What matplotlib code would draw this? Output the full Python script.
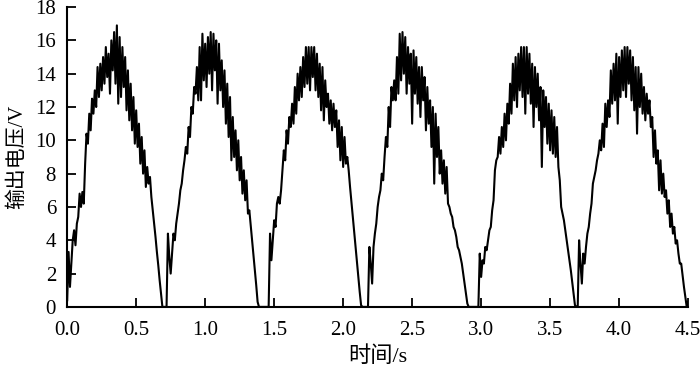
import numpy as np
import matplotlib
matplotlib.use('Agg')
import matplotlib.pyplot as plt

# output voltage, one value every DT seconds
DT = 0.01
pulse1 = [0.4, 3.3, 1.2, 2.6, 4.0, 4.6, 3.7, 5.0, 5.4, 6.8,
          6.0, 6.9, 6.2, 8.6, 10.4, 9.8, 11.6, 10.6, 12.5, 11.6,
          13.0, 12.0, 14.4, 12.6, 14.6, 13.0, 15.0, 13.4, 15.6, 13.8,
          15.2, 12.8, 16.0, 14.2, 16.5, 13.4, 16.9, 12.2, 16.2, 12.6,
          15.6, 13.2, 15.0, 11.8, 14.2, 11.2, 13.4, 10.6, 12.6, 9.8,
          11.8, 9.6, 11.0, 8.6, 10.2, 8.0, 9.4, 7.2, 8.4, 7.4,
          7.8, 6.6, 5.8, 5.0, 4.2, 3.3, 2.5, 1.6, 0.8, 0.0]
pulse2 = [0.0, 0.0, 0.0, 4.4, 3.0, 2.0, 3.2, 4.4, 4.0, 5.0,
          5.6, 6.2, 7.0, 7.4, 8.2, 8.8, 9.6, 9.2, 10.8, 10.2,
          12.0, 11.6, 13.2, 12.8, 14.4, 12.4, 15.6, 12.4, 16.4, 13.6,
          15.8, 13.2, 16.2, 14.0, 16.5, 13.0, 16.4, 14.2, 16.0, 12.2,
          15.8, 13.0, 14.8, 12.0, 14.2, 11.0, 13.4, 10.2, 12.6, 8.8,
          11.4, 9.0, 10.6, 8.2, 10.0, 7.6, 9.0, 6.8, 8.2, 6.4,
          7.6, 5.6, 5.8, 4.9, 4.0, 3.1, 2.2, 1.3, 0.3, 0.0]
pulse3 = [0.0, 0.0, 0.0, 0.0, 0.0, 0.0, 0.0, 4.4, 2.8, 4.0,
          5.2, 4.8, 6.2, 6.6, 6.2, 7.0, 8.2, 9.4, 8.8, 10.6,
          9.8, 11.4, 10.8, 12.2, 11.0, 13.2, 11.6, 14.0, 12.4, 14.4,
          12.6, 15.0, 13.2, 15.6, 13.4, 15.6, 13.0, 15.6, 13.8, 15.6,
          13.0, 15.2, 12.6, 14.6, 11.8, 14.4, 11.2, 13.6, 12.0, 12.8,
          11.0, 12.4, 10.6, 12.2, 10.8, 11.8, 9.6, 11.2, 8.8, 10.8,
          8.4, 10.2, 8.6, 9.0, 8.2, 7.2, 6.3, 5.4, 4.5, 3.6,
          2.7, 1.8, 0.9, 0.1, 0.0, 0.0, 0.0, 0.0, 0.0, 3.6]
pulse4 = [2.6, 1.4, 3.6, 4.4, 5.0, 6.0, 6.6, 7.0, 8.0, 7.6,
          9.0, 10.2, 9.6, 12.0, 10.8, 13.2, 12.4, 13.6, 12.4, 15.0,
          12.8, 16.4, 13.6, 16.5, 14.0, 16.2, 12.8, 15.6, 13.4, 15.2,
          11.0, 15.4, 12.8, 15.0, 12.2, 14.4, 11.4, 14.4, 12.4, 13.8,
          10.6, 13.2, 11.0, 12.4, 9.6, 12.0, 7.4, 11.6, 9.0, 10.8,
          8.0, 9.4, 7.4, 8.8, 6.8, 8.4, 6.2, 6.0, 5.6, 5.4,
          4.8, 4.6, 4.2, 3.6, 3.4, 3.0, 2.6, 2.0, 1.4, 0.8,
          0.2, 0.0, 0.0, 0.0, 0.0, 0.0, 0.0, 0.0, 0.0, 3.2]
pulse5 = [1.8, 2.8, 2.6, 3.6, 3.4, 4.0, 4.6, 4.8, 5.8, 6.4,
          8.2, 8.8, 9.0, 10.2, 9.2, 10.8, 9.6, 11.6, 10.0, 12.2,
          11.0, 13.4, 11.6, 14.6, 12.4, 15.0, 12.0, 15.2, 13.0, 15.6,
          12.6, 15.6, 11.6, 15.6, 12.8, 15.2, 12.2, 14.6, 10.8, 14.4,
          12.0, 14.0, 11.2, 13.2, 8.4, 13.0, 10.8, 12.6, 9.8, 12.2,
          9.4, 11.8, 9.2, 11.4, 9.0, 10.8, 8.4, 7.6, 6.0, 5.6,
          5.2, 4.6, 4.0, 3.4, 2.8, 2.2, 1.5, 0.8, 0.1, 0.0]
pulse6 = [0.0, 4.0, 2.6, 1.4, 3.2, 2.6, 3.6, 4.4, 4.8, 5.6,
          6.2, 7.4, 7.8, 8.2, 8.8, 9.2, 10.0, 9.4, 11.0, 9.6,
          12.2, 10.8, 12.4, 11.4, 14.2, 12.2, 14.6, 12.4, 15.2, 11.0,
          15.0, 12.6, 15.4, 13.0, 15.6, 12.6, 15.6, 13.4, 15.4, 12.4,
          15.0, 11.8, 14.4, 10.4, 14.4, 12.0, 14.0, 11.6, 13.2, 11.2,
          12.8, 11.6, 12.4, 10.8, 11.4, 9.0, 10.6, 8.6, 9.4, 7.0,
          8.8, 6.8, 8.0, 6.6, 7.0, 5.6, 6.4, 4.8, 5.6, 4.4,
          4.8, 3.8, 4.0, 3.2, 2.6, 2.6, 1.9, 1.2, 0.6, 0.0,
          0.3]

xticks = [0.0, 0.5, 1.0, 1.5, 2.0, 2.5, 3.0, 3.5, 4.0, 4.5]
yticks = [0, 2, 4, 6, 8, 10, 12, 14, 16, 18]

voltage = np.array(pulse1 + pulse2 + pulse3 + pulse4 + pulse5 + pulse6)
t = np.arange(len(voltage)) * DT

fonts = ['Liberation Serif', 'Noto Sans CJK SC']
plt.rcParams['font.family'] = fonts

fig = plt.figure(figsize=(7, 3.72), dpi=100)
ax = fig.add_axes([0.096, 0.175, 0.887, 0.806])

ax.plot(t, voltage, color='black', lw=1.5)

ax.set_xlim(0, 4.5)
ax.set_ylim(0, 18)
ax.set_xticks(xticks)
ax.set_xticklabels(['%.1f' % v for v in xticks])
ax.set_yticks(yticks)
ax.spines['top'].set_visible(False)
ax.spines['right'].set_visible(False)
for s in ['left', 'bottom']:
    ax.spines[s].set_linewidth(1.5)
ax.tick_params(direction='in', length=6.5, width=1.3, labelsize=15)
ax.tick_params(axis='x', pad=10)
ax.tick_params(axis='y', pad=8)

ax.set_xlabel('时间/s', fontsize=16, labelpad=5)
ax.set_ylabel('输出电压/V', fontsize=15, labelpad=6)

fig.savefig('out.png', dpi=100)
